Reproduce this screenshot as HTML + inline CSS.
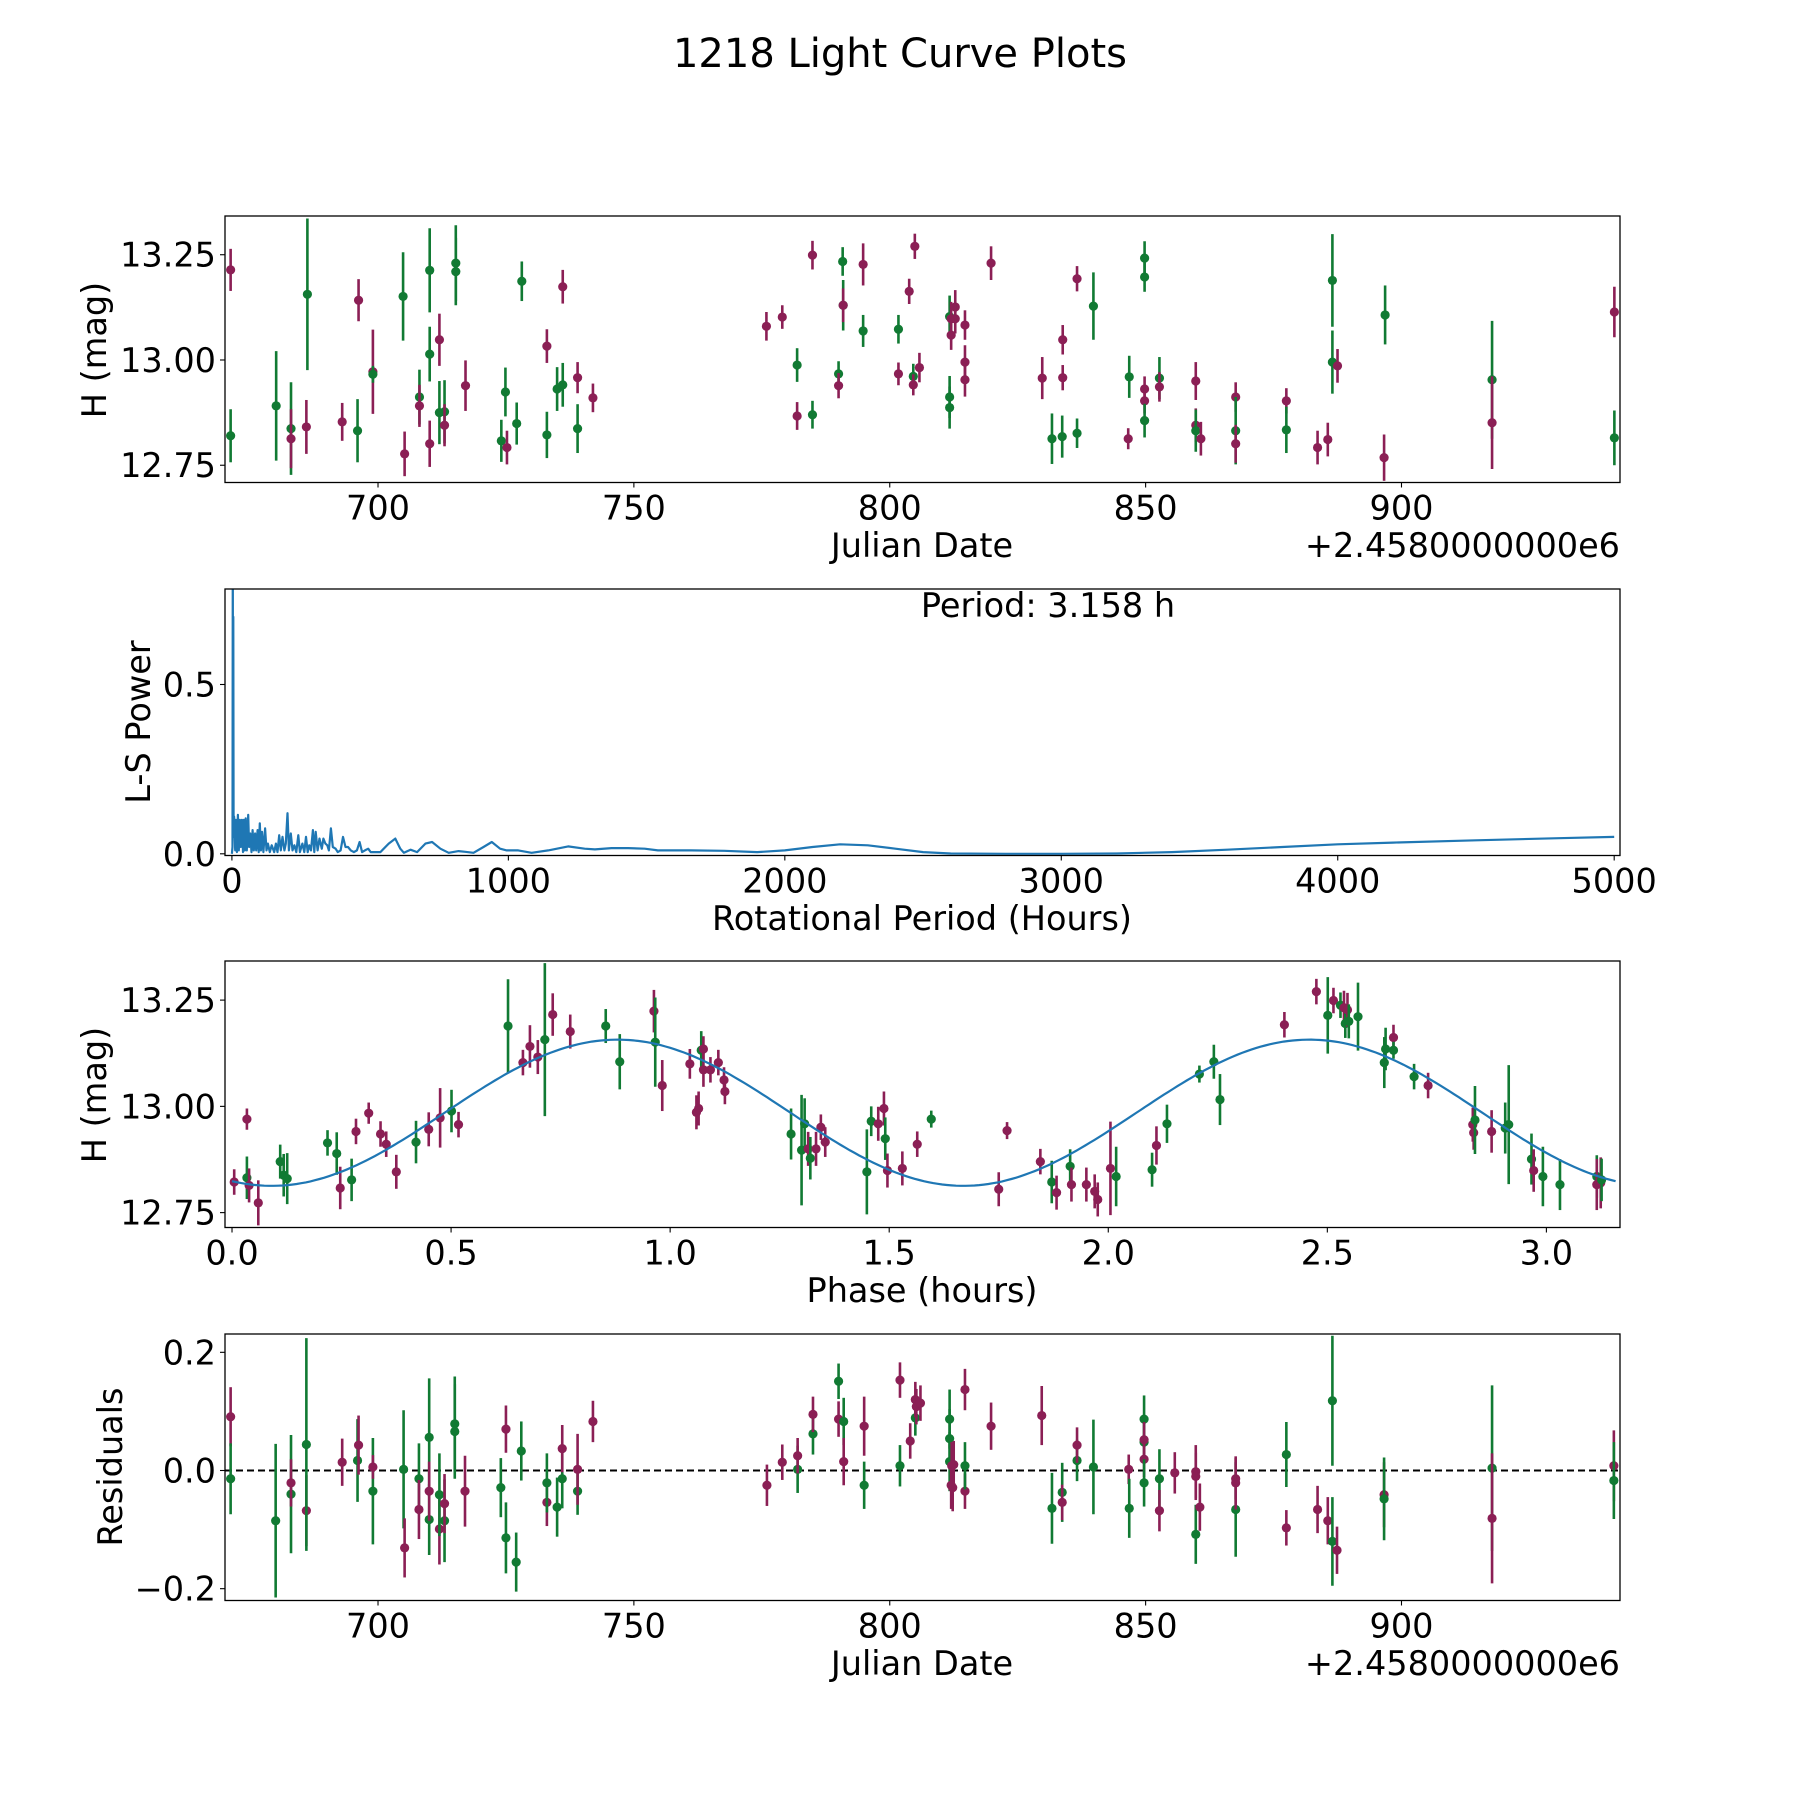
<!DOCTYPE html>
<html><head><meta charset="utf-8"><title>1218 Light Curve Plots</title>
<style>
html,body{margin:0;padding:0;background:#fff;}
svg{display:block;font-family:"DejaVu Sans","Liberation Sans",sans-serif;}
</style></head>
<body>
<svg id="fig" width="1800" height="1800" viewBox="0 0 1800 1800" xmlns="http://www.w3.org/2000/svg">
<rect x="0" y="0" width="1800" height="1800" fill="#fff"/>
<text x="900" y="67" font-size="40" text-anchor="middle">1218 Light Curve Plots</text>
</svg>
<script>
// ---------- Panel 1: light curve (Julian Date offset, H mag, error, filter) ----------
const lcJd = [671.2,671.2,680.1,683.0,683.0,686.0,686.2,693.0,696.0,696.2,699.0,699.0,704.9,705.2,708.1,708.1,710.1,710.1,710.1,712.0,712.0,713.0,713.0,715.2,715.2,717.1,724.1,725.2,724.9,727.1,728.1,733.0,733.0,735.0,736.1,736.1,739.0,739.0,742.0,775.9,779.0,781.9,781.9,784.9,784.9,790.0,790.0,790.8,790.9,790.9,794.8,794.8,801.7,801.7,804.6,804.6,803.8,804.9,805.8,
819.8,811.7,811.7,811.7,812.0,812.0,812.8,812.8,814.7,814.7,814.7,829.8,833.8,833.8,831.7,833.7,836.6,836.6,839.8,846.6,846.8,849.8,849.8,849.8,849.8,849.8,852.7,852.7,859.8,859.8,859.8,860.8,867.6,867.6,867.6,877.5,877.5,883.6,885.6,886.5,886.5,887.5,896.6,896.8,917.7,917.7,941.6,941.6];
const lcMag = [13.214,12.820,12.891,12.837,12.813,12.841,13.156,12.853,12.832,13.142,12.972,12.966,13.151,12.777,12.912,12.891,13.213,13.014,12.801,13.048,12.875,12.877,12.845,13.230,13.210,12.939,12.808,12.792,12.924,12.849,13.187,12.822,13.033,12.931,12.941,13.174,12.958,12.837,12.910,13.080,13.102,12.988,12.867,13.249,12.870,12.967,12.939,13.234,13.130,13.130,13.227,13.069,12.967,13.073,12.961,12.941,13.163,13.270,12.982,
13.230,13.103,12.912,12.887,13.098,13.059,13.126,13.098,13.083,12.995,12.953,12.957,13.048,12.958,12.813,12.818,12.826,13.193,13.128,12.813,12.960,13.242,13.197,12.931,12.903,12.856,12.957,12.936,12.950,12.845,12.832,12.813,12.912,12.832,12.801,12.903,12.834,12.792,12.811,13.189,12.995,12.986,12.768,13.107,12.953,12.851,13.114,12.815];
const lcErr = [0.05,0.063,0.13,0.11,0.07,0.064,0.18,0.045,0.075,0.05,0.1,0.02,0.105,0.053,0.065,0.05,0.1,0.065,0.055,0.062,0.075,0.075,0.05,0.09,0.08,0.06,0.05,0.04,0.058,0.05,0.047,0.055,0.04,0.052,0.052,0.04,0.037,0.058,0.034,0.034,0.028,0.04,0.033,0.034,0.033,0.03,0.03,0.034,0.06,0.04,0.05,0.038,0.027,0.034,0.03,0.025,0.03,0.03,0.035,
0.04,0.05,0.05,0.05,0.04,0.035,0.04,0.035,0.035,0.04,0.04,0.05,0.035,0.03,0.06,0.05,0.035,0.03,0.08,0.025,0.05,0.04,0.035,0.03,0.03,0.04,0.05,0.035,0.045,0.04,0.05,0.04,0.035,0.08,0.045,0.03,0.055,0.04,0.04,0.11,0.075,0.04,0.055,0.07,0.14,0.11,0.06,0.065];
const lcBand = ["m","g","g","g","m","m","g","m","g","m","m","g","g","m","g","m","g","g","m","m","g","g","m","g","g","m","g","m","g","g","g","g","m","g","g","m","m","g","m","m","m","g","m","m","g","g","m","g","g","m","m","g","m","g","g","m","m","m","m",
"m","g","g","g","m","m","m","m","m","m","m","m","m","m","g","g","g","m","g","m","g","g","g","m","m","g","g","m","m","m","g","m","m","g","m","m","g","m","m","g","g","m","m","g","g","m","m","g"];

// ---------- Panel 2: Lomb-Scargle periodogram ----------
const lsPeriod = [0,2,3.2,4,5,6,8,12,14.4,18,21.6,25,29,32,36,40,43,47,50,54,59,62,66,71,75,79,84,88,93,97,101,105,109,114,120,125,130,137,144,153,159,165,171,177,183,190,195,201,206,213,219,226,233,240,246,255,262,268,274,280,286,293,298,303,310,317,325,331,338,345,351,358,365,375,383,393,402,411,420,430,441,452,462,471,481,493,502,517,537,567,591,609,622,646,670,700,724,754,784,820,844,874,910,940,970,994,1036,1084,1144,1216,1276,1313,1373,1433,1493,1541,1661,1781,1900,2000,2100,2200,2300,2400,2500,2600,2800,3000,3200,3400,3600,3800,4000,4200,4500,4800,5000];
const lsPower = [0,0.02,0.95,0.1,0.70,0.05,0.11,0.01,0.1,0.005,0.115,0.01,0.1,0.02,0.1,0.005,0.1,0.01,0.105,0.01,0.115,0.02,0.06,0.005,0.07,0.01,0.06,0.01,0.07,0.005,0.09,0.01,0.065,0.005,0.075,0.01,0.03,0.005,0.025,0.005,0.03,0.005,0.055,0.01,0.05,0.01,0.03,0.12,0.01,0.06,0.01,0.025,0.005,0.055,0.005,0.03,0.005,0.05,0.005,0.025,0.01,0.07,0.005,0.065,0.01,0.045,0.015,0.045,0.03,0.025,0.01,0.075,0.02,0.015,0.005,0.01,0.05,0.02,0.02,0.01,0.005,0.01,0.035,0.005,0.01,0.015,0.005,0.005,0.005,0.03,0.045,0.015,0.003,0.012,0.005,0.03,0.035,0.015,0.003,0.008,0.006,0.003,0.02,0.035,0.015,0.01,0.01,0.003,0.01,0.022,0.015,0.013,0.017,0.017,0.015,0.01,0.01,0.009,0.005,0.01,0.02,0.028,0.025,0.015,0.005,0.001,0.0,0.0,0.001,0.005,0.012,0.02,0.028,0.033,0.04,0.046,0.05];
const lsTicksX = [0,1000,2000,3000,4000,5000];
const lsTicksY = [0.0,0.5];
const bestPeriodLabel = "Period: 3.158 h";

// ---------- Panel 3: phased light curve ----------
const phX = [0.005,0.034,0.034,0.039,0.06,0.11,0.118,0.126,0.218,0.239,0.247,0.273,0.283,0.312,0.339,0.352,0.375,0.42,0.449,0.475,0.501,0.517,0.63,0.664,0.68,0.698,0.714,0.732,0.772,0.853,0.885,0.963,0.966,0.982,1.045,1.06,1.065,1.071,1.076,1.076,1.092,1.11,1.123,1.125,1.276,1.3,1.307,1.315,1.32,1.333,1.344,1.354,1.449,1.459,1.475,1.488,1.491,1.496,1.53,1.564,1.596,1.75,1.769,1.845,1.871,1.882,1.913,1.916,1.95,1.969,1.976,2.005,2.018,2.1,2.11,2.134,2.208,2.241,2.255,2.402,2.475,2.501,2.514,2.53,2.538,2.541,2.546,2.549,2.57,2.63,2.633,2.651,2.651,2.698,2.73,2.832,2.834,2.837,2.875,2.906,2.914,2.966,2.971,2.992,3.031,3.115,3.115,3.124,3.126];
const phMag = [12.822,12.970,12.832,12.814,12.773,12.870,12.838,12.830,12.914,12.889,12.808,12.827,12.941,12.984,12.935,12.911,12.846,12.916,12.946,12.973,12.989,12.957,13.189,13.103,13.141,13.116,13.157,13.216,13.176,13.189,13.105,13.224,13.151,13.049,13.100,12.986,12.995,13.132,13.135,13.086,13.086,13.103,13.062,13.035,12.935,12.897,12.959,12.900,12.878,12.900,12.951,12.916,12.846,12.965,12.959,12.995,12.924,12.849,12.854,12.911,12.970,12.805,12.943,12.870,12.822,12.797,12.859,12.816,12.816,12.800,12.781,12.854,12.835,12.851,12.908,12.959,13.076,13.105,13.016,13.192,13.270,13.214,13.249,13.238,13.232,13.195,13.227,13.200,13.211,13.103,13.135,13.162,13.132,13.070,13.049,12.957,12.938,12.968,12.941,12.949,12.957,12.876,12.849,12.835,12.816,12.835,12.816,12.820,12.827];
const phErr = [0.03,0.025,0.05,0.04,0.053,0.04,0.05,0.06,0.03,0.05,0.05,0.05,0.03,0.025,0.03,0.03,0.04,0.05,0.04,0.07,0.05,0.03,0.11,0.03,0.05,0.04,0.18,0.05,0.04,0.04,0.065,0.05,0.105,0.06,0.035,0.04,0.04,0.045,0.03,0.04,0.03,0.03,0.03,0.03,0.06,0.13,0.06,0.04,0.05,0.04,0.03,0.035,0.1,0.035,0.04,0.04,0.05,0.04,0.04,0.03,0.02,0.04,0.02,0.03,0.05,0.04,0.04,0.04,0.04,0.04,0.04,0.11,0.07,0.04,0.045,0.045,0.02,0.04,0.06,0.03,0.03,0.09,0.03,0.03,0.04,0.034,0.04,0.04,0.08,0.06,0.05,0.03,0.02,0.03,0.03,0.04,0.04,0.08,0.05,0.06,0.14,0.06,0.05,0.07,0.06,0.05,0.06,0.06,0.05];
const phBand = ["m","m","g","m","m","g","g","g","g","g","m","g","m","m","m","m","m","g","m","m","g","m","g","m","m","m","g","m","m","g","g","m","g","m","m","m","m","g","m","m","m","m","m","m","g","g","g","m","g","m","m","m","g","g","m","m","g","m","m","m","g","m","m","m","g","m","g","m","m","m","m","m","g","g","m","g","g","g","g","m","m","g","m","g","m","g","m","g","g","g","g","m","g","g","m","m","m","g","m","g","g","g","m","g","g","g","m","m","g"];
// sinusoidal model fit parameters
const fitMean = [12.985];
const fitAmp = [0.172];
const fitHalfPeriod = [1.579];
const fitPeakPhase = [0.88];
const fitRange = [0, 3.158];

// ---------- Panel 4: residuals ----------
const resJd = [671.2,671.2,680,683,683,686,686,693,696,696.2,699,699,705,705.2,708,708,710,710,710,712,712,713,713,715,715,717,724,725,725,727,728,733,733,735,736,736,739,739,742,776,779,782,782,785,785,790,790,791,791,795,795,802,802,804,805,805,805.2,806,811.7,811.7,811.7,812,812.3,812.1,812.5,814.7,814.7,814.7,819.8,829.7,831.7,833.7,833.7,836.6,836.6,839.8,846.7,846.8,849.7,849.7,849.7,849.7,849.7,852.7,852.7,855.7,859.8,859.8,859.8,860.6,867.6,867.6,867.6,877.5,877.5,883.6,885.6,886.5,886.5,887.4,896.6,896.6,917.7,917.7,941.5,941.5];
const resVal = [0.091,-0.014,-0.085,-0.04,-0.021,-0.068,0.044,0.014,0.017,0.043,-0.035,0.006,0.002,-0.131,-0.014,-0.066,0.056,-0.083,-0.035,-0.099,-0.041,-0.085,-0.056,0.079,0.066,-0.035,-0.029,-0.114,0.07,-0.155,0.033,-0.054,-0.021,-0.062,-0.014,0.037,-0.035,0.002,0.083,-0.025,0.014,0.002,0.025,0.062,0.095,0.151,0.087,0.083,0.015,0.075,-0.025,0.008,0.153,0.05,0.089,0.12,0.108,0.114,0.087,0.054,0.015,-0.025,-0.029,0.008,0.01,0.137,-0.035,0.008,0.075,0.093,-0.064,-0.037,-0.054,0.017,0.043,0.006,0.002,-0.064,0.087,0.048,0.052,0.019,-0.021,-0.014,-0.068,-0.004,-0.002,-0.01,-0.108,-0.062,-0.014,-0.066,-0.021,0.027,-0.097,-0.066,-0.085,0.118,-0.12,-0.135,-0.041,-0.048,0.004,-0.081,0.008,-0.017];
const resErr = [0.05,0.06,0.13,0.1,0.04,0.06,0.18,0.04,0.07,0.05,0.09,0.02,0.1,0.05,0.06,0.05,0.1,0.06,0.05,0.06,0.07,0.07,0.05,0.08,0.08,0.06,0.05,0.06,0.04,0.05,0.05,0.04,0.05,0.05,0.05,0.04,0.04,0.06,0.035,0.035,0.03,0.04,0.03,0.035,0.03,0.03,0.03,0.04,0.04,0.05,0.04,0.035,0.03,0.03,0.03,0.03,0.03,0.03,0.05,0.05,0.05,0.04,0.04,0.04,0.04,0.035,0.03,0.04,0.04,0.05,0.06,0.05,0.03,0.035,0.03,0.08,0.025,0.05,0.04,0.035,0.03,0.03,0.04,0.05,0.035,0.035,0.045,0.04,0.05,0.04,0.035,0.08,0.045,0.055,0.03,0.04,0.04,0.11,0.075,0.04,0.055,0.07,0.14,0.11,0.06,0.065];
const resBand = ["m","g","g","g","m","m","g","m","g","m","g","m","g","m","g","m","g","g","m","m","g","g","m","g","g","m","g","g","m","g","g","m","g","g","g","m","g","m","m","m","m","g","m","g","m","g","m","g","m","m","g","g","m","m","g","m","m","m","g","g","g","m","m","m","m","m","m","g","m","m","g","g","m","g","m","g","m","g","g","g","m","m","g","g","m","m","m","m","g","m","m","g","m","g","m","m","m","g","g","m","m","g","g","m","m","g"];

const jdTicks = [700,750,800,850,900];
const magTicks = [12.75,13.00,13.25];
const phaseTicks = [0.0,0.5,1.0,1.5,2.0,2.5,3.0];
const resTicks = [-0.2,0.0,0.2];

// ---------- drawing ----------
const NS = "http://www.w3.org/2000/svg";
const svg = document.getElementById('fig');
const L = 225, R = 1620, PH = 266.5, FS = 33.5;
const COL = {m:"#8b1f55", g:"#117a33"};
function mk(tag, attrs, parent){const e=document.createElementNS(NS,tag);for(const k in attrs)e.setAttribute(k,attrs[k]);(parent||svg).appendChild(e);return e;}
function axis(top, x0, x1, y0, y1){
  return {sx:v=>L+(v-x0)/(x1-x0)*(R-L), sy:v=>top+PH-(v-y0)/(y1-y0)*PH, top:top, bot:top+PH};
}
function frame(ax, name, idx){
  const g = mk('g',{});
  
  
  const cp = mk('clipPath',{id:'clip'+idx}, g);
  mk('rect',{x:L,y:ax.top,width:R-L,height:PH},cp);
  const plot = mk('g',{'clip-path':'url(#clip'+idx+')'}, g);
  
  
  return {g, plot};
}
function spines(g, ax){
  const r = mk('rect',{x:L,y:ax.top,width:R-L,height:PH,fill:'none',stroke:'#000','stroke-width':1.3},g);
  
  
}
function xTicks(g, ax, ticks, fmt){
  ticks.forEach(t=>{
    const x = ax.sx(t);
    mk('line',{x1:x,x2:x,y1:ax.bot,y2:ax.bot+5,stroke:'#000','stroke-width':1.1},g);
    const tx = mk('text',{x:x,y:ax.bot+37,'font-size':FS,'text-anchor':'middle'},g);
    tx.textContent = fmt(t);
    
    
  });
}
function yTicks(g, ax, ticks, fmt){
  ticks.forEach(t=>{
    const y = ax.sy(t);
    mk('line',{x1:L-5,x2:L,y1:y,y2:y,stroke:'#000','stroke-width':1.1},g);
    const tx = mk('text',{x:L-9,y:y+12,'font-size':FS,'text-anchor':'end'},g);
    tx.textContent = fmt(t);
    
    
  });
}
function label(g, txt, x, y, rot, name, anchor){
  const t = mk('text',{x:x,y:y,'font-size':FS,'text-anchor':anchor||'middle'},g);
  if(rot) t.setAttribute('transform','rotate(-90 '+x+' '+y+')');
  t.textContent = txt;
  
  
}
function errPoints(plot, ax, xs, ys, es, bands){
  for(let i=0;i<xs.length;i++){
    const c = COL[bands[i]]||COL.m, x = ax.sx(xs[i]);
    const ln = mk('line',{x1:x,x2:x,y1:ax.sy(ys[i]-es[i]),y2:ax.sy(ys[i]+es[i]),stroke:c,'stroke-width':2.6},plot);
    
    
    const pt = mk('circle',{cx:x,cy:ax.sy(ys[i]),r:4.6,fill:c},plot);
    
    
  }
}
const f2 = v=>v.toFixed(2), f1 = v=>v.toFixed(1), f0 = v=>String(v);
const fm = v=>(v<0?'\u2212':'')+Math.abs(v).toFixed(1);

// Panel 1
const ax1 = axis(216, 670.1, 942.7, 12.709, 13.342);
const p1 = frame(ax1,'light-curve-panel',1);
errPoints(p1.plot, ax1, lcJd, lcMag, lcErr, lcBand);
spines(p1.g, ax1);
xTicks(p1.g, ax1, jdTicks, f0);
yTicks(p1.g, ax1, magTicks, f2);
label(p1.g,'Julian Date',922,557,false,'x-axis-title');
label(p1.g,'+2.4580000000e6',1620,557,false,'x-axis-offset','end');
label(p1.g,'H (mag)',106,350,true,'y-axis-title');

// Panel 2
const ax2 = axis(589, -25, 5021, -0.005, 0.782);
const p2 = frame(ax2,'periodogram-panel',2);
const pts = lsPeriod.map((p,i)=>ax2.sx(p).toFixed(1)+','+ax2.sy(lsPower[i]).toFixed(1)).join(' ');
const pl = mk('polyline',{points:pts,fill:'none',stroke:'#1f77b4','stroke-width':2.2,'stroke-linejoin':'round'},p2.plot);


spines(p2.g, ax2);
xTicks(p2.g, ax2, lsTicksX, f0);
yTicks(p2.g, ax2, lsTicksY, f1);
label(p2.g,bestPeriodLabel,1048,617,false,'period-annotation');
label(p2.g,'Rotational Period (Hours)',922,930,false,'x-axis-title');
label(p2.g,'L-S Power',150,722,true,'y-axis-title');

// Panel 3
const ax3 = axis(961, -0.016, 3.168, 12.715, 13.342);
const p3 = frame(ax3,'phased-curve-panel',3);
errPoints(p3.plot, ax3, phX, phMag, phErr, phBand);
let fp = [];
for(let k=0;k<=300;k++){
  const ph = fitRange[0] + (fitRange[1]-fitRange[0])*k/300;
  const v = fitMean[0] + fitAmp[0]*Math.cos(2*Math.PI*(ph-fitPeakPhase[0])/fitHalfPeriod[0]);
  fp.push(ax3.sx(ph).toFixed(1)+','+ax3.sy(v).toFixed(1));
}
const fl = mk('polyline',{points:fp.join(' '),fill:'none',stroke:'#1f77b4','stroke-width':2.2},p3.plot);


spines(p3.g, ax3);
xTicks(p3.g, ax3, phaseTicks, f1);
yTicks(p3.g, ax3, magTicks, f2);
label(p3.g,'Phase (hours)',922,1302,false,'x-axis-title');
label(p3.g,'H (mag)',106,1095,true,'y-axis-title');

// Panel 4
const ax4 = axis(1334, 670.1, 942.7, -0.220, 0.231);
const p4 = frame(ax4,'residuals-panel',4);
const zl = mk('line',{x1:L,x2:R,y1:ax4.sy(0),y2:ax4.sy(0),stroke:'#000','stroke-width':2,'stroke-dasharray':'7,4'},p4.plot);


errPoints(p4.plot, ax4, resJd, resVal, resErr, resBand);
spines(p4.g, ax4);
xTicks(p4.g, ax4, jdTicks, f0);
yTicks(p4.g, ax4, resTicks, fm);
label(p4.g,'Julian Date',922,1675,false,'x-axis-title');
label(p4.g,'+2.4580000000e6',1620,1675,false,'x-axis-offset','end');
label(p4.g,'Residuals',122,1467,true,'y-axis-title');
</script>
</body></html>
